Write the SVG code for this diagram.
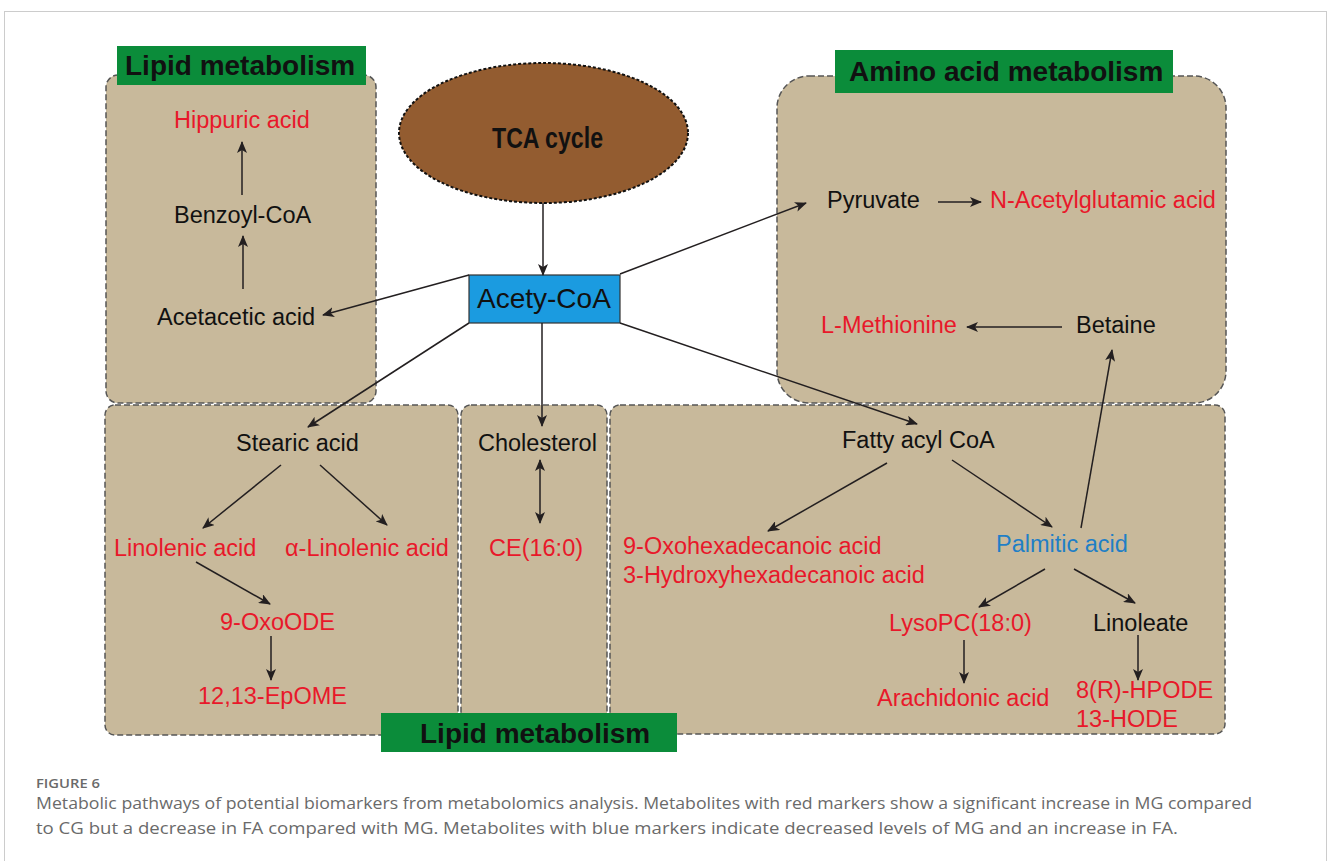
<svg xmlns="http://www.w3.org/2000/svg" width="1328" height="861" viewBox="0 0 1328 861">
<defs>
<style>
.box{fill:#c8b99b;stroke:#555;stroke-width:1.5;stroke-dasharray:6 3}
.lab{fill:#0b8c3a}
.labt{font-family:"Liberation Sans",Arial,sans-serif;font-weight:bold;font-size:28px;fill:#111}
.t{font-family:"Liberation Sans",Arial,sans-serif;font-size:23.5px;fill:#111}
.r{fill:#e8182a}
.b{fill:#1f7fc6}
.c{stroke:#231f20;stroke-width:1.5;fill:none;marker-end:url(#ah)}
.cap{font-family:"Open Sans","Noto Sans",sans-serif;fill:#6a6a6a}
</style>
<marker id="ah" viewBox="0 0 12 10" refX="11" refY="5" markerWidth="12" markerHeight="10" markerUnits="userSpaceOnUse" orient="auto-start-reverse">
<path d="M0,0 L12,5 L0,10 L3,5 z" fill="#231f20"/>
</marker>
</defs>
<rect x="4.5" y="11.5" width="1322" height="900" fill="#fff" stroke="#ccc" stroke-width="1"/>

<g id="box-lipid-top">
<rect class="box" x="106" y="75" width="270" height="328" rx="12"/>
</g>
<g id="box-amino">
<rect class="box" x="777" y="76" width="449" height="327" rx="32"/>
</g>
<g id="box-lipid-left">
<rect class="box" x="105" y="405" width="353" height="330" rx="10"/>
</g>
<g id="box-lipid-mid">
<rect class="box" x="461" y="405" width="146" height="330" rx="10"/>
</g>
<g id="box-lipid-right">
<rect class="box" x="610" y="405" width="615" height="329" rx="10"/>
</g>

<g id="label-lipid-top">
<rect class="lab" x="117" y="46" width="249" height="39"/>
<text class="labt" x="125" y="75">Lipid metabolism</text>
</g>
<g id="label-amino">
<rect class="lab" x="835" y="50" width="338" height="43"/>
<text class="labt" x="849" y="81">Amino acid metabolism</text>
</g>
<g id="label-lipid-bottom">
<rect class="lab" x="381" y="713" width="296" height="39"/>
<text class="labt" x="420" y="743">Lipid metabolism</text>
</g>

<g id="tca">
<ellipse cx="543.5" cy="133" rx="144.5" ry="70" fill="#935c30" stroke="#111" stroke-width="2" stroke-dasharray="3 2"/>
<text x="547.5" y="148" text-anchor="middle" textLength="111" lengthAdjust="spacingAndGlyphs" style="font-family:'Liberation Sans',Arial,sans-serif;font-weight:bold;font-size:29px;fill:#111">TCA cycle</text>
</g>
<g id="acetyl-coa">
<rect x="469" y="275" width="151" height="48" fill="#1b9be0" stroke="#333" stroke-width="1.2"/>
<text x="477" y="308" style="font-family:'Liberation Sans',Arial,sans-serif;font-size:28px;fill:#111">Acety-CoA</text>
</g>

<g id="hippuric"><text class="t r" x="174" y="128">Hippuric acid</text></g>
<g id="benzoyl"><text class="t" x="174" y="223">Benzoyl-CoA</text></g>
<g id="acetacetic"><text class="t" x="157" y="325">Acetacetic acid</text></g>

<g id="pyruvate"><text class="t" x="827" y="208">Pyruvate</text></g>
<g id="nacetyl"><text class="t r" x="990" y="208">N-Acetylglutamic acid</text></g>
<g id="methionine"><text class="t r" x="821" y="333">L-Methionine</text></g>
<g id="betaine"><text class="t" x="1076" y="333">Betaine</text></g>

<g id="stearic"><text class="t" x="236" y="451">Stearic acid</text></g>
<g id="linolenic"><text class="t r" x="114" y="556">Linolenic acid</text></g>
<g id="alinolenic"><text class="t r" x="285" y="556">α-Linolenic acid</text></g>
<g id="oxoode"><text class="t r" x="220" y="630">9-OxoODE</text></g>
<g id="epome"><text class="t r" x="198" y="704">12,13-EpOME</text></g>

<g id="cholesterol"><text class="t" x="478" y="451">Cholesterol</text></g>
<g id="ce"><text class="t r" x="489" y="556">CE(16:0)</text></g>

<g id="fattyacyl"><text class="t" x="842" y="448">Fatty acyl CoA</text></g>
<g id="oxohexa"><text class="t r" x="623" y="554">9-Oxohexadecanoic acid</text><text class="t r" x="623" y="583">3-Hydroxyhexadecanoic acid</text></g>
<g id="palmitic"><text class="t b" x="996" y="552">Palmitic acid</text></g>
<g id="lysopc"><text class="t r" x="889" y="631">LysoPC(18:0)</text></g>
<g id="linoleate"><text class="t" x="1093" y="631">Linoleate</text></g>
<g id="arachidonic"><text class="t r" x="877" y="706">Arachidonic acid</text></g>
<g id="hpode"><text class="t r" x="1076" y="698">8(R)-HPODE</text><text class="t r" x="1076" y="727">13-HODE</text></g>

<g id="connectors">
<line class="c" x1="543" y1="203" x2="543" y2="275"/>
<line class="c" x1="469" y1="275" x2="323" y2="315"/>
<line class="c" x1="620" y1="274" x2="806" y2="203"/>
<line class="c" x1="620" y1="323" x2="917" y2="424"/>
<line class="c" x1="469" y1="323" x2="308" y2="427"/>
<line class="c" x1="542" y1="323" x2="542" y2="426"/>
<line class="c" x1="242" y1="195" x2="242" y2="142"/>
<line class="c" x1="243" y1="289" x2="243" y2="236"/>
<line class="c" x1="938" y1="202" x2="981" y2="202"/>
<line class="c" x1="1062" y1="327" x2="967" y2="327"/>
<line class="c" x1="1081" y1="528" x2="1112" y2="350"/>
<line class="c" x1="281" y1="465" x2="203" y2="528"/>
<line class="c" x1="320" y1="465" x2="387" y2="525"/>
<line class="c" x1="196" y1="562" x2="270" y2="604"/>
<line class="c" x1="271" y1="636" x2="271" y2="680"/>
<line class="c" x1="540" y1="460" x2="540" y2="523" style="marker-start:url(#ah)"/>
<line class="c" x1="887" y1="463" x2="768" y2="531"/>
<line class="c" x1="952" y1="460" x2="1052" y2="527"/>
<line class="c" x1="1045" y1="569" x2="979" y2="607"/>
<line class="c" x1="1074" y1="569" x2="1135" y2="603"/>
<line class="c" x1="964" y1="640" x2="964" y2="683"/>
<line class="c" x1="1138" y1="635" x2="1138" y2="680"/>
</g>

<g id="caption">
<text class="cap" x="36" y="788" style="font-size:12.5px;font-weight:600" textLength="64" lengthAdjust="spacingAndGlyphs">FIGURE 6</text>
<text class="cap" x="36" y="809" style="font-size:15.5px" textLength="1216" lengthAdjust="spacingAndGlyphs">Metabolic pathways of potential biomarkers from metabolomics analysis. Metabolites with red markers show a significant increase in MG compared</text>
<text class="cap" x="36" y="834" style="font-size:15.5px" textLength="1142" lengthAdjust="spacingAndGlyphs">to CG but a decrease in FA compared with MG. Metabolites with blue markers indicate decreased levels of MG and an increase in FA.</text>
</g>
</svg>
